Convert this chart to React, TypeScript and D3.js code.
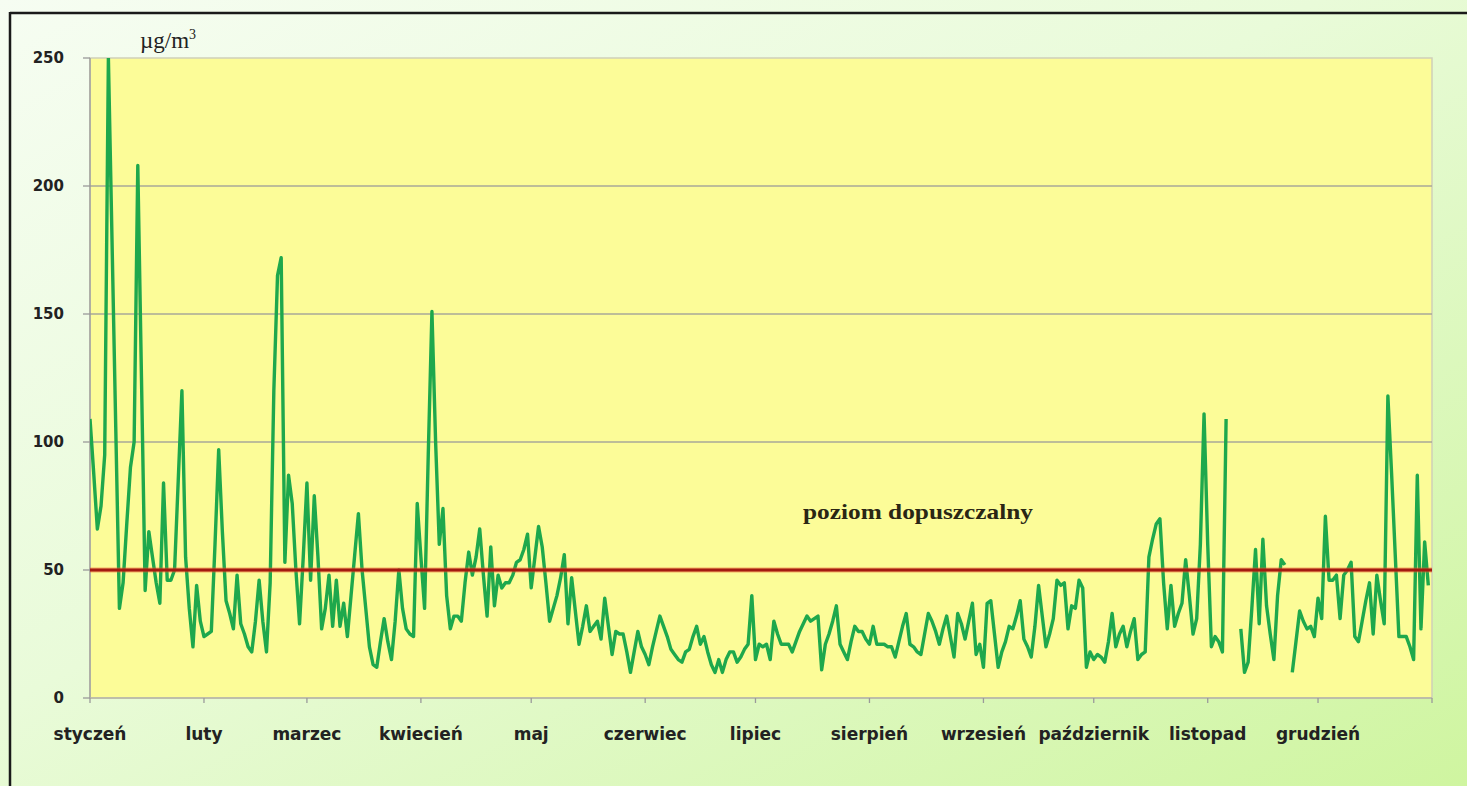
import React from "react";
import * as d3 from "d3";

// stężenie dobowe PM10 w kolejnych dniach roku, µg/m3 (null = brak pomiaru)
const months = ["styczeń", "luty", "marzec", "kwiecień", "maj", "czerwiec", "lipiec", "sierpień", "wrzesień", "październik", "listopad", "grudzień"];

const jan = [109, 88, 66, 75, 95, 250, 178, 106, 35, 45, 68, 90, 100, 208, 125, 42, 65, 55, 45, 37, 84, 46, 46, 50, 85, 120, 55, 35, 20, 44, 30];
const feb = [24, 25, 26, 60, 97, 65, 38, 33, 27, 48, 29, 25, 20, 18, 30, 46, 30, 18, 45, 120, 165, 172, 53, 87, 76, 50, 29, 55];
const mar = [84, 46, 79, 55, 27, 35, 48, 28, 46, 28, 37, 24, 40, 56, 72, 50, 35, 20, 13, 12, 22, 31, 22, 15, 30, 50, 35, 27, 25, 24, 76];
const apr = [55, 35, 95, 151, 100, 60, 74, 40, 27, 32, 32, 30, 45, 57, 48, 55, 66, 48, 32, 59, 36, 48, 43, 45, 45, 48, 53, 54, 58, 64];
const may = [43, 55, 67, 59, 45, 30, 35, 40, 47, 56, 29, 47, 34, 21, 28, 36, 26, 28, 30, 23, 39, 28, 17, 26, 25, 25, 18, 10, 18, 26, 20];
const jun = [17, 13, 20, 26, 32, 28, 24, 19, 17, 15, 14, 18, 19, 24, 28, 21, 24, 18, 13, 10, 15, 10, 15, 18, 18, 14, 16, 19, 21, 40];
const jul = [15, 21, 20, 21, 15, 30, 25, 21, 21, 21, 18, 22, 26, 29, 32, 30, 31, 32, 11, 21, 25, 30, 36, 21, 18, 15, 22, 28, 26, 26, 23];
const aug = [21, 28, 21, 21, 21, 20, 20, 16, 22, 28, 33, 21, 20, 18, 17, 25, 33, 30, 26, 21, 27, 32, 24, 16, 33, 29, 23, 30, 37, 17, 21];
const sep = [12, 37, 38, 25, 12, 18, 22, 28, 27, 32, 38, 23, 20, 16, 28, 44, 32, 20, 25, 31, 46, 44, 45, 27, 36, 35, 46, 43, 12, 18];
const oct = [15, 17, 16, 14, 22, 33, 20, 25, 28, 20, 26, 31, 15, 17, 18, 55, 62, 68, 70, 45, 27, 44, 28, 33, 37, 54, 40, 25, 31, 60, 111];
const nov = [60, 20, 24, 22, 18, 109, null, null, null, 27, 10, 14, 35, 58, 29, 62, 36, 25, 15, 40, 54, 52, null, 10, 22, 34, 30, 27, 28, 24];
const dec = [39, 31, 71, 46, 46, 48, 31, 48, 50, 53, 24, 22, 30, 38, 45, 25, 48, 38, 29, 118, 88, 56, 24, 24, 24, 20, 15, 87, 27, 61, 44];

const monthData = [jan, feb, mar, apr, may, jun, jul, aug, sep, oct, nov, dec];
const yTicks = [0, 50, 100, 150, 200, 250];
const limit = 50;

const W = 1467;
const H = 786;
const left = 90, right = 1432, top = 58, bottom = 698;

export default function App() {
  const values: (number | null)[] = monthData.flat();
  const starts: number[] = [];
  let acc = 0;
  monthData.forEach((m) => {
    starts.push(acc);
    acc += m.length;
  });
  const nDays = acc;

  const x = d3.scaleLinear().domain([0, nDays]).range([left, right]);
  const y = d3.scaleLinear().domain([0, 250]).range([bottom, top]);

  const line = d3
    .line<number | null>()
    .defined((d) => d !== null)
    .x((d, i) => x(i))
    .y((d) => y(d as number));

  return (
    <svg width={W} height={H} style={{ position: "absolute", left: 0, top: 0 }}>
      <defs>
        <linearGradient id="bg" x1="0" y1="0" x2="1" y2="1">
          <stop offset="0%" stopColor="#f6fdf2" />
          <stop offset="45%" stopColor="#e9fbd9" />
          <stop offset="100%" stopColor="#cff5a0" />
        </linearGradient>
        <clipPath id="plot">
          <rect x={left} y={top} width={right - left} height={bottom - top} />
        </clipPath>
      </defs>
      <rect width={W} height={H} fill="url(#bg)" />
      {/* ramka */}
      <line x1={10} y1={13} x2={W} y2={13} stroke="#1a1a1a" strokeWidth={2.5} />
      <line x1={10} y1={12} x2={10} y2={H} stroke="#1a1a1a" strokeWidth={2.5} />

      <rect x={left} y={top} width={right - left} height={bottom - top} fill="#fcfc98" stroke="#cfd0b8" strokeWidth={1.5} />

      {yTicks.map((t) => (
        <g key={t}>
          {t > 0 && t < 250 && (
            <line x1={left} x2={right} y1={y(t)} y2={y(t)} stroke="#a8a898" strokeWidth={1.3} />
          )}
          <line x1={left - 7} x2={left} y1={y(t)} y2={y(t)} stroke="#9a9a9a" strokeWidth={1.3} />
          <text
            x={64}
            y={y(t)}
            dy="0.36em"
            textAnchor="end"
            fontFamily="DejaVu Sans, sans-serif"
            fontWeight="bold"
            fontSize={15}
            fill="#222"
          >
            {t}
          </text>
        </g>
      ))}
      <line x1={left} x2={left} y1={top} y2={bottom} stroke="#9a9a9a" strokeWidth={1.3} />
      <line x1={left} x2={right} y1={bottom} y2={bottom} stroke="#b4b4a4" strokeWidth={1.3} />

      {[...starts, nDays].map((s, i) => (
        <line key={"t" + i} x1={x(s)} x2={x(s)} y1={bottom} y2={bottom + 5} stroke="#9a9a9a" strokeWidth={1.3} />
      ))}
      {months.map((m, i) => (
        <text
          key={m}
          x={x(starts[i])}
          y={740}
          textAnchor="middle"
          fontFamily="DejaVu Sans, sans-serif"
          fontWeight="bold"
          fontSize={17}
          fill="#222"
        >
          {m}
        </text>
      ))}

      <g clipPath="url(#plot)">
        <path d={line(values) || ""} fill="none" stroke="#1ea84c" strokeWidth={3.4} strokeLinejoin="round" />
      </g>

      <line x1={left} x2={right} y1={y(limit)} y2={y(limit)} stroke="#f06030" strokeWidth={5} opacity={0.5} />
      <line x1={left} x2={right} y1={y(limit)} y2={y(limit)} stroke="#a41a10" strokeWidth={3} />

      <text
        x={803}
        y={519}
        fontFamily="Liberation Serif, serif"
        fontWeight="bold"
        fontSize={22}
        fill="#2a2614"
        textLength={230}
        lengthAdjust="spacingAndGlyphs"
      >
        poziom dopuszczalny
      </text>
      <text x={140} y={48} fontFamily="Liberation Serif, serif" fontSize={23} fill="#222">
        µg/m<tspan fontSize={14} dy={-9}>3</tspan>
      </text>
    </svg>
  );
}
